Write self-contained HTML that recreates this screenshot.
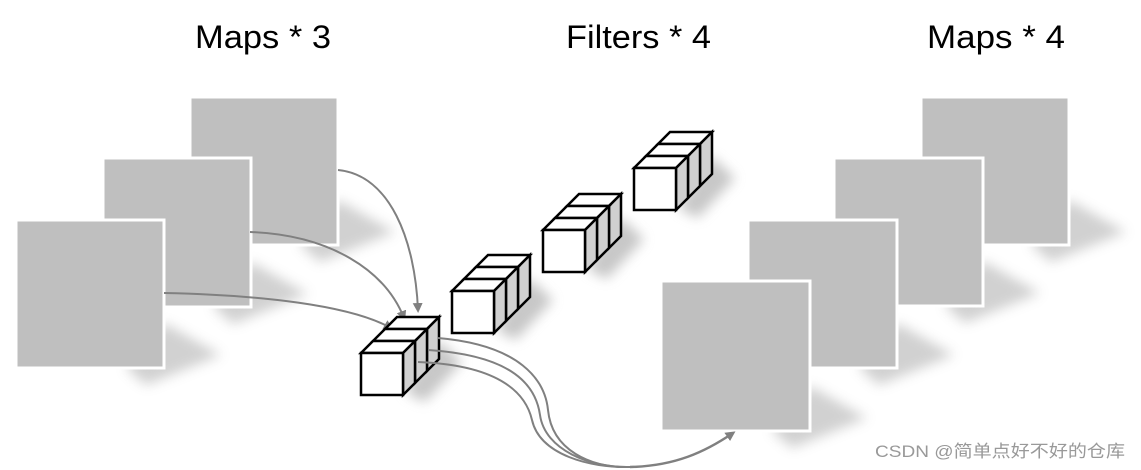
<!DOCTYPE html>
<html><head><meta charset="utf-8"><style>
html,body{margin:0;padding:0;background:#fff;}
svg{display:block;}
</style></head><body>
<svg width="1141" height="470" viewBox="0 0 1141 470" xmlns="http://www.w3.org/2000/svg">
<defs>
<filter id="bl" x="-50%" y="-50%" width="200%" height="200%"><feGaussianBlur stdDeviation="6"/></filter>
<marker id="ar" markerWidth="10" markerHeight="10" refX="7" refY="5" orient="auto" markerUnits="userSpaceOnUse">
<path d="M0,0 L10,5 L0,10 Z" fill="#808080"/></marker>
<g id="stack" stroke="#000" stroke-width="2.5" stroke-linejoin="miter">
<polygon points="24,-24 36,-36 78,-36 66,-24" fill="#fff"/>
<polygon points="66,-24 78,-36 78,6 66,18" fill="#d0d0d0"/>
<polygon points="12,-12 24,-24 66,-24 54,-12" fill="#fff"/>
<polygon points="54,-12 66,-24 66,18 54,30" fill="#d0d0d0"/>
<polygon points="0,0 12,-12 54,-12 42,0" fill="#fff"/>
<polygon points="42,0 54,-12 54,30 42,42" fill="#d0d0d0"/>
<rect x="0" y="0" width="42" height="42" fill="#fff"/>
</g>
</defs>
<g font-family="Liberation Sans, sans-serif" font-size="32" fill="#000">
<text x="195" y="48" textLength="136" lengthAdjust="spacingAndGlyphs">Maps * 3</text>
<text x="566" y="48" textLength="145" lengthAdjust="spacingAndGlyphs">Filters * 4</text>
<text x="927" y="48" textLength="138" lengthAdjust="spacingAndGlyphs">Maps * 4</text>
</g>
<g fill="#9a9a9a" opacity="0.45" filter="url(#bl)">
<polygon points="300,245 338,200 395,232 320,262"/>
<polygon points="213,307 251,262 308,294 233,324"/>
<polygon points="126,368 164,323 221,355 146,385"/>
<polygon points="1031,245 1069,200 1126,232 1051,262"/>
<polygon points="945,306 983,261 1040,293 965,323"/>
<polygon points="859,368 897,323 954,355 879,385"/>
<polygon points="772,431 810,386 867,418 792,448"/>
</g>
<g fill="#9a9a9a" opacity="0.55" filter="url(#bl)">
<polygon points="405,392 438,340 462,362 425,402"/>
<polygon points="496,330 529,278 553,300 516,340"/>
<polygon points="587,269 620,217 644,239 607,279"/>
<polygon points="678,208 711,156 735,178 698,218"/>
</g>
<g fill="#bfbfbf" stroke="#fff" stroke-width="3">
<rect x="190" y="97" width="148" height="148"/>
<rect x="103" y="158" width="148" height="149"/>
<rect x="16" y="220" width="148" height="148"/>
<rect x="921" y="97" width="148" height="148"/>
<rect x="834" y="158" width="149" height="148"/>
<rect x="748" y="220" width="149" height="148"/>
<rect x="661" y="281" width="149" height="150"/>
</g>
<g fill="none" stroke="#808080" stroke-width="2">
<path d="M338,170 C390,175 415,240 418,310" marker-end="url(#ar)"/>
<path d="M250,232 C330,235 385,270 404,318" marker-end="url(#ar)"/>
<path d="M164,293 C260,295 350,305 391,328" marker-end="url(#ar)"/>
</g>
<use href="#stack" x="361" y="353"/>
<use href="#stack" x="452" y="291"/>
<use href="#stack" x="543" y="230"/>
<use href="#stack" x="634" y="168"/>
<g fill="none" stroke="#808080" stroke-width="2">
<path d="M438,338 C520,345 545,380 548,410 C552,450 590,468 630,467"/>
<path d="M428,350 C505,355 535,380 540,415 C545,450 590,468 630,467"/>
<path d="M418,362 C495,365 525,390 532,420 C540,455 590,468 630,467"/>
<path d="M630,467 C675,466 705,452 733,433" marker-end="url(#ar)" stroke-width="2.5"/>
</g>
<text x="875" y="457" font-family="Liberation Sans, Noto Sans CJK SC, sans-serif" font-size="17" fill="#999" textLength="250" lengthAdjust="spacingAndGlyphs">CSDN @简单点好不好的仓库</text>
</svg>
</body></html>
